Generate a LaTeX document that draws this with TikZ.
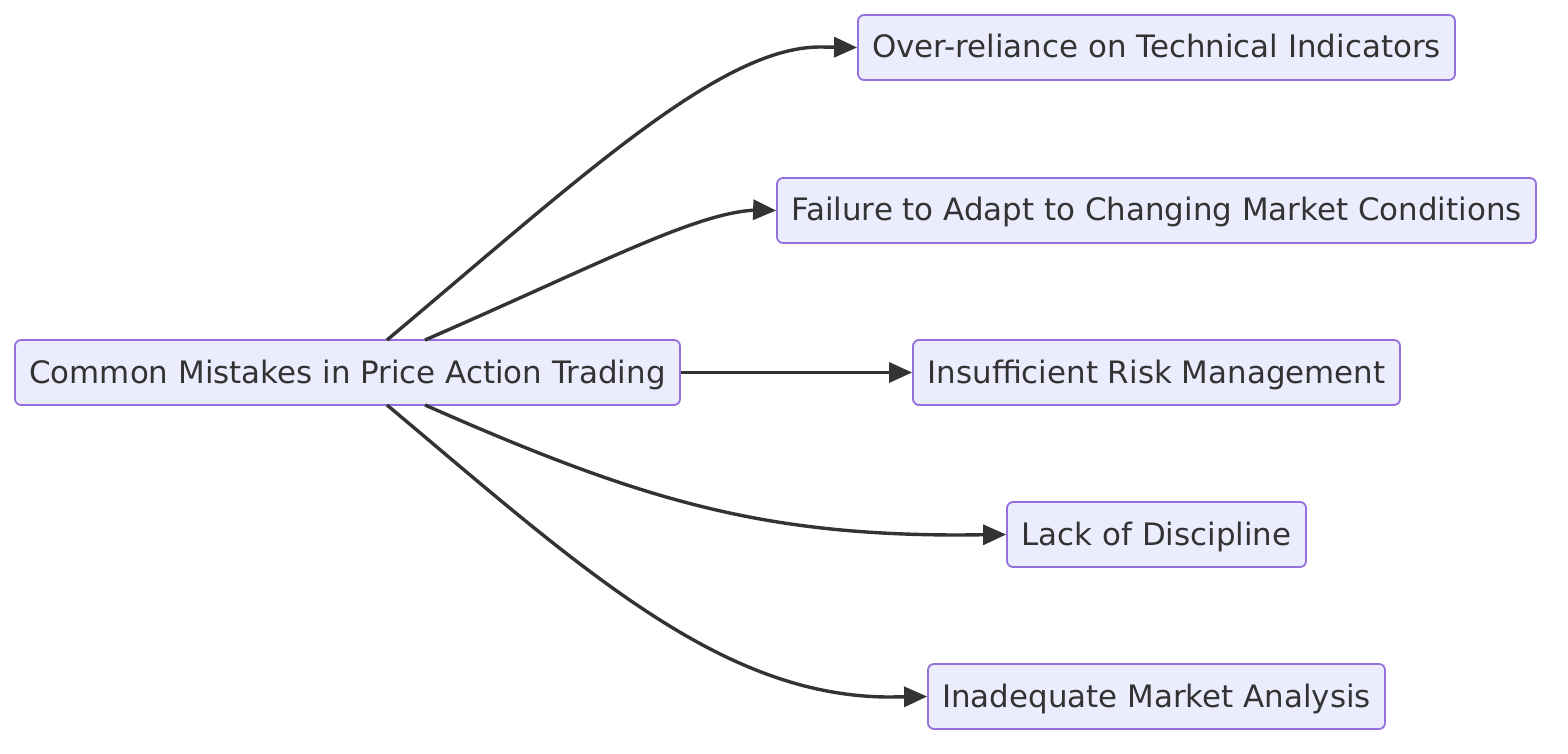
\documentclass[tikz,border=0pt]{standalone}
\usepackage{fontspec}
\setmainfont{DejaVu Sans}
\usetikzlibrary{arrows.meta}
\definecolor{nodefill}{HTML}{ECECFF}
\definecolor{nodestroke}{HTML}{9370DB}
\definecolor{ink}{HTML}{333333}
\begin{document}
\begin{tikzpicture}[x=1pt,y=-1pt,
  box/.style={draw=nodestroke,fill=nodefill,line width=1.8pt,rounded corners=6pt,
    minimum height=65pt,inner sep=0pt,text height=23pt,text depth=2pt,text=ink,
    font=\fontsize{30.9}{36}\selectfont},
  link/.style={draw=ink,line width=3.4pt,-{Triangle[length=23pt,width=20pt]}}]
\useasboundingbox (0,0) rectangle (1568,754);
\node[box,minimum width=665pt] (main) at (347.5,372.5) {Common Mistakes in Price Action Trading};
\node[box,minimum width=597pt] (a) at (1156.5,47.5) {Over-reliance on Technical Indicators};
\node[box,minimum width=759pt] (b) at (1156.5,210.5) {Failure to Adapt to Changing Market Conditions};
\node[box,minimum width=487pt] (c) at (1156.5,372.5) {Insufficient Risk Management};
\node[box,minimum width=299pt] (d) at (1156.5,534.5) {Lack of Discipline};
\node[box,minimum width=457pt] (e) at (1156.5,696.5) {Inadequate Market Analysis};
\coordinate (s1) at (387,340);
\coordinate (s2) at (425,340);
\coordinate (s4) at (425,405);
\coordinate (s5) at (387,405);
\draw[link] (s1) .. controls (580,178) and (720,47) .. (820,47) -- (a.west);
\draw[link] (s2) .. controls (600,264) and (700,210) .. (760,210) -- (b.west);
\draw[link] (main.east) -- (c.west);
\draw[link] (s4) .. controls (640,500) and (760,535) .. (960,535) -- (d.west);
\draw[link] (s5) .. controls (580,567) and (720,697) .. (890,697) -- (e.west);
\end{tikzpicture}
\end{document}
